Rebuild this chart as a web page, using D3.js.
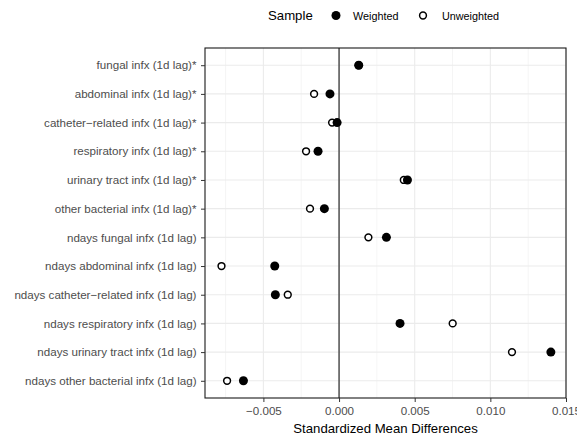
<!DOCTYPE html>
<html>
<head>
<meta charset="utf-8">
<script src="https://cdn.jsdelivr.net/npm/d3@7"></script>
<style>
  body { margin: 0; background: #fff; }
  svg { font-family: "Liberation Sans", Arial, Helvetica, sans-serif; }
</style>
</head>
<body>
<svg id="chart" width="577" height="440"></svg>
<script>
const covariates = [
  "fungal infx (1d lag)*",
  "abdominal infx (1d lag)*",
  "catheter\u2212related infx (1d lag)*",
  "respiratory infx (1d lag)*",
  "urinary tract infx (1d lag)*",
  "other bacterial infx (1d lag)*",
  "ndays fungal infx (1d lag)",
  "ndays abdominal infx (1d lag)",
  "ndays catheter\u2212related infx (1d lag)",
  "ndays respiratory infx (1d lag)",
  "ndays urinary tract infx (1d lag)",
  "ndays other bacterial infx (1d lag)"
];
const unweighted = [0.0013, -0.00165, -0.00046, -0.00218, 0.00428, -0.00192,
                    0.00194, -0.00777, -0.00339, 0.00751, 0.01143, -0.0074];
const weighted = [0.0013, -0.0006, -0.00013, -0.00139, 0.00452, -0.00097,
                  0.00313, -0.00425, -0.00421, 0.00403, 0.0140, -0.00632];
const xTicks = [-0.005, 0, 0.005, 0.010, 0.015];
const xMinor = [-0.0075, -0.0025, 0.0025, 0.0075, 0.0125];

const width = 577;
const height = 440;
const margin = { top: 48, right: 11, bottom: 42, left: 205 };

const svg = d3.select("#chart");

const x = d3.scaleLinear()
  .domain([-0.00886, 0.0150])
  .range([margin.left, width - margin.right]);

const y = d3.scalePoint()
  .domain(covariates)
  .range([margin.top, height - margin.bottom])
  .padding(0.6);

// grid
const grid = svg.append("g");
grid.selectAll(".minor")
  .data(xMinor)
  .join("line")
  .attr("x1", d => x(d)).attr("x2", d => x(d))
  .attr("y1", margin.top).attr("y2", height - margin.bottom)
  .attr("stroke", "#f2f2f2").attr("stroke-width", 0.8);
grid.selectAll(".major")
  .data(xTicks)
  .join("line")
  .attr("x1", d => x(d)).attr("x2", d => x(d))
  .attr("y1", margin.top).attr("y2", height - margin.bottom)
  .attr("stroke", "#ebebeb").attr("stroke-width", 1.1);
grid.selectAll(".hrow")
  .data(covariates)
  .join("line")
  .attr("x1", margin.left).attr("x2", width - margin.right)
  .attr("y1", d => y(d)).attr("y2", d => y(d))
  .attr("stroke", "#ebebeb").attr("stroke-width", 1.1);

// zero line
svg.append("line")
  .attr("x1", x(0)).attr("x2", x(0))
  .attr("y1", margin.top).attr("y2", height - margin.bottom)
  .attr("stroke", "#000").attr("stroke-width", 1);

// points: unweighted under weighted
svg.append("g").selectAll("circle")
  .data(covariates)
  .join("circle")
  .attr("cx", (d, i) => x(unweighted[i]))
  .attr("cy", d => y(d))
  .attr("r", 3.4)
  .attr("fill", "#fff")
  .attr("stroke", "#000")
  .attr("stroke-width", 1.5);

svg.append("g").selectAll("circle")
  .data(covariates)
  .join("circle")
  .attr("cx", (d, i) => x(weighted[i]))
  .attr("cy", d => y(d))
  .attr("r", 4.5)
  .attr("fill", "#000");

// panel border
svg.append("rect")
  .attr("x", margin.left).attr("y", margin.top)
  .attr("width", width - margin.right - margin.left)
  .attr("height", height - margin.bottom - margin.top)
  .attr("fill", "none")
  .attr("stroke", "#1a1a1a")
  .attr("stroke-width", 1.1);

// axes
const fmt = d => d3.format(".3f")(d).replace("-", "\u2212");
const xAxis = svg.append("g")
  .attr("transform", `translate(0,${height - margin.bottom})`)
  .call(d3.axisBottom(x).tickValues(xTicks).tickFormat(fmt).tickSizeOuter(0).tickSize(4).tickPadding(4.5));
const yAxis = svg.append("g")
  .attr("transform", `translate(${margin.left},0)`)
  .call(d3.axisLeft(y).tickSizeOuter(0).tickSize(4).tickPadding(4.5));

[xAxis, yAxis].forEach(a => {
  a.select(".domain").remove();
  a.selectAll(".tick line").attr("stroke", "#333");
  a.selectAll(".tick text")
    .attr("fill", "#4d4d4d")
    .style("font-size", "11.6px")
    .style("font-family", "'Liberation Sans', Arial, Helvetica, sans-serif");
});

svg.append("text")
  .attr("x", (margin.left + width - margin.right) / 2)
  .attr("y", 433)
  .attr("text-anchor", "middle")
  .style("font-size", "13.2px")
  .text("Standardized Mean Differences");

// legend
const legend = svg.append("g");
legend.append("text")
  .attr("x", 268).attr("y", 20)
  .style("font-size", "13.2px")
  .text("Sample");
legend.append("circle")
  .attr("cx", 336).attr("cy", 15.5).attr("r", 4.5).attr("fill", "#000");
legend.append("text")
  .attr("x", 353).attr("y", 19.5)
  .style("font-size", "10.8px")
  .text("Weighted");
legend.append("circle")
  .attr("cx", 423).attr("cy", 15.5).attr("r", 3.4)
  .attr("fill", "#fff").attr("stroke", "#000").attr("stroke-width", 1.5);
legend.append("text")
  .attr("x", 442).attr("y", 19.5)
  .style("font-size", "10.8px")
  .text("Unweighted");
</script>
</body>
</html>
